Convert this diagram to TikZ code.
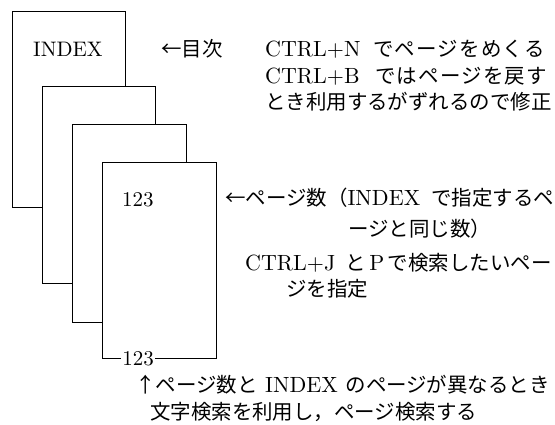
\documentclass[tikz,border=0pt]{standalone}
\usepackage{fontspec}
\setmainfont{lmroman10-regular.otf}
\newfontfamily\cjk{Noto Sans CJK JP}[Scale=0.93]
\newfontfamily\cjkwide{Noto Sans CJK JP}[Scale=0.93, LetterSpace=6]
\newcommand\J[1]{{\cjk #1}}
\newcommand\JW[1]{{\cjkwide #1}}
\tikzset{
  page/.style={draw=black, line width=0.8pt, fill=white},
  txt/.style={anchor=base west, inner sep=0pt, font=\fontsize{22}{26}\selectfont},
  pagetxt/.style={txt, font=\fontsize{21}{26}\selectfont},
}
\begin{document}
\begin{tikzpicture}[x=1pt,y=-1pt]
\useasboundingbox (0,0) rectangle (555,425);
\fill[white] (0,0) rectangle (555,425);
% pages
\draw[page] (12,11) rectangle (125,207);
\draw[page] (42,86) rectangle (155,283);
\draw[page] (72,124) rectangle (186,322);
\draw[page] (102,162) rectangle (216,358);
% page texts
\node[pagetxt] (idx) at (33,57) {INDEX};
\node[pagetxt] (num1) at (122,207) {123};
\node[pagetxt, anchor=base, fill=white, inner xsep=1.5pt, inner ysep=0pt] (num2) at (138,365) {123};
% right texts
\node[txt] (mokuji) at (161,57) {\J{←目次}};
\node[txt] (l1) at (265,57) {\makebox[108pt][l]{CTRL+N}\JW{でページをめくる}};
\node[txt] (l2) at (265,84) {\makebox[110pt][l]{CTRL+B}\JW{ではページを戻す}};
\node[txt] (l3) at (265,110) {\J{とき利用するがずれるので修正}};
\node[txt] (r1) at (225,206) {\J{←ページ数（}INDEX\hspace{0.5em}\J{で指定するペ}};
\node[txt] (r2) at (348,237) {\J{ージと同じ数）}};
\node[txt] (r3) at (245,270) {\makebox[100pt][l]{CTRL+J}\J{と}\,P\,\J{で検索したいペー}};
\node[txt] (r4) at (286,296) {\J{ジを指定}};
\node[txt] (b1) at (135,392) {\J{↑ページ数と}\makebox[88pt]{INDEX}\J{のページが異なるとき}};
\node[txt] (b2) at (150,419) {\J{文字検索を利用し，ページ検索する}};
\end{tikzpicture}
\end{document}
